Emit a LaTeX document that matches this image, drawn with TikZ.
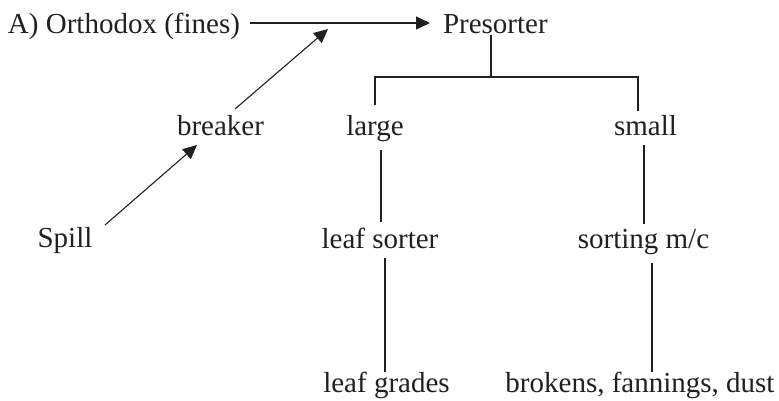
\documentclass[tikz,border=0pt]{standalone}
\usepackage{fontspec}
\setmainfont{Liberation Serif}
\usetikzlibrary{arrows.meta}
\definecolor{ink}{HTML}{231F20}
\begin{document}
\begin{tikzpicture}[x=1pt,y=-1pt,
  lbl/.style={inner sep=0pt,outer sep=0pt,anchor=base,text=ink,font=\fontsize{29}{34}\selectfont},
  flow/.style={draw=ink,line width=1.1pt,-{Triangle[length=14pt,width=13pt]}},
  tree/.style={draw=ink,line width=2pt}]
\useasboundingbox (0,0) rectangle (779,400);
% labels
\node[lbl,anchor=base west] (orth) at (8,33) {A) Orthodox (fines)};
\node[lbl,anchor=base west] (pres) at (443,33) {Presorter};
\node[lbl] (breaker) at (220.5,135) {breaker};
\node[lbl] (large) at (375,135) {large};
\node[lbl] (small) at (645.5,135) {small};
\node[lbl] (spill) at (65,247) {Spill};
\node[lbl] (lsort) at (380,248) {leaf sorter};
\node[lbl] (smc) at (643.5,248) {sorting m/c};
\node[lbl] (lgrades) at (386.5,392) {leaf grades};
\node[lbl] (bfd) at (640,392) {brokens, fannings, dust};
% flow arrows
\draw[flow] ([xshift=10pt,yshift=10pt]orth.base east) -- ([xshift=-13pt,yshift=10pt]pres.base west);
\coordinate (merge) at (328,29);
\draw[flow] ([xshift=14.5pt,yshift=26pt]breaker.base) -- (merge);
\draw[flow] ([xshift=40pt,yshift=22pt]spill.base) -- ([xshift=-23.5pt,yshift=-10pt]breaker.base);
% presorter tree
\draw[tree] ([xshift=48pt,yshift=-2pt]pres.base west) -- ++(0,42) coordinate (junc);
\draw[tree] ([yshift=30pt]large.base) |- (junc) -| ([xshift=-7.5pt,yshift=24pt]small.base);
\draw[tree] ([xshift=6pt,yshift=-15pt]large.base) -- ([xshift=1pt,yshift=26pt]lsort.base);
\draw[tree] ([xshift=5pt,yshift=-10pt]lsort.base) -- ([xshift=-1.5pt,yshift=20pt]lgrades.base);
\draw[tree] ([xshift=-1.5pt,yshift=-10pt]small.base) -- ([xshift=0.5pt,yshift=24pt]smc.base);
\draw[tree] ([xshift=8.5pt,yshift=-15pt]smc.base) -- ([xshift=12pt,yshift=20pt]bfd.base);
\end{tikzpicture}
\end{document}
